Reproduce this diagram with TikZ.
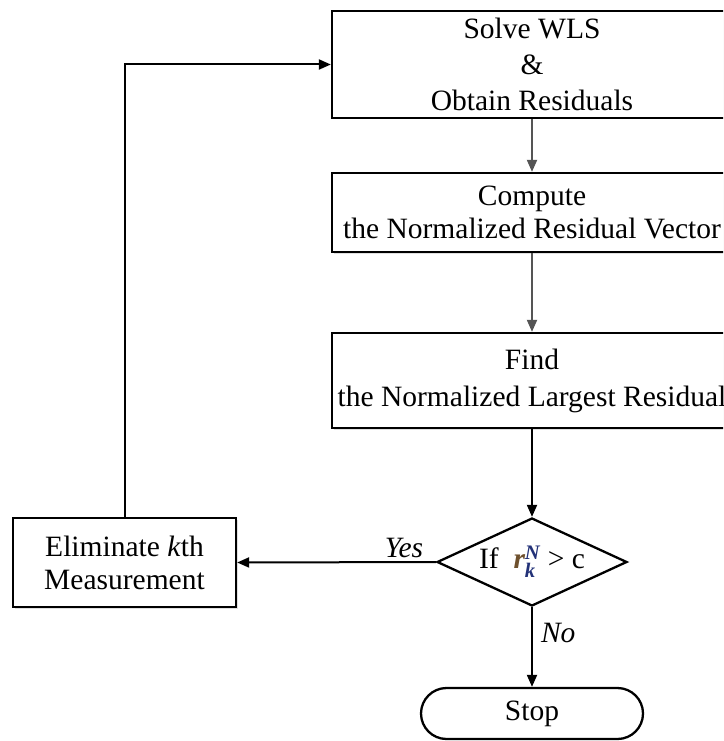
\documentclass[tikz,border=0pt]{standalone}
\usepackage{amsmath}
\usepackage{fontspec}
\setmainfont{Liberation Serif}
\usetikzlibrary{arrows.meta,shapes.geometric,shapes.misc,shadows}
\definecolor{flowgray}{RGB}{85,85,85}
\definecolor{rbrown}{RGB}{110,80,45}
\definecolor{knavy}{RGB}{35,50,120}
\newcommand{\resvar}{$\textcolor{rbrown}{\textit{\textbf{r}}}%
  ^{\textcolor{knavy}{\textit{\textbf{N}}}}_{\textcolor{knavy}{\textit{\textbf{k}}}}$}
\begin{document}
\begin{tikzpicture}[x=1pt,y=-1pt,
  txt/.style={font=\fontsize{29.5}{33}\selectfont},
  procbox/.style={txt,draw=black,line width=2.3pt,fill=white,rectangle,inner sep=0pt,
    align=center,drop shadow={shadow xshift=1.5pt,shadow yshift=-1.5pt,opacity=0.25}},
  decbox/.style={txt,draw=black,line width=2.3pt,fill=white,diamond,aspect=2.16,
    inner sep=0pt,minimum width=190,minimum height=88},
  termbox/.style={txt,draw=black,line width=2.3pt,fill=white,rounded rectangle,
    inner sep=0pt,minimum width=222,minimum height=51},
  garrow/.style={draw=flowgray,line width=2pt,-{Triangle[length=12pt,width=10pt]}},
  barrow/.style={draw=black,line width=2pt,-{Triangle[length=12pt,width=10pt]}},
  lbl/.style={txt,font=\fontsize{29.5}{33}\selectfont\itshape,inner sep=2pt}]
\clip (0,0) rectangle (723,741);
\fill[white] (0,0) rectangle (723,741);

% process steps
\node[procbox,minimum width=400,minimum height=107,font=\fontsize{29.5}{36}\selectfont]
  (solve) at (532,64.5) {Solve WLS\\\&\\Obtain Residuals};
\node[procbox,minimum width=400,minimum height=79]
  (compute) at (532,212.5) {Compute\\the Normalized Residual Vector};
\node[procbox,minimum width=400,minimum height=95,font=\fontsize{29.5}{37}\selectfont]
  (find) at (532,380.5) {Find\\the Normalized Largest Residual};

% decision
\node[decbox] (test) at (532,562) {If\ \ \resvar\ > c};

% elimination step
\node[procbox,minimum width=223,minimum height=89] (elim) at (124.5,562.5)
  {Eliminate \textit{k}th\\Measurement};

% terminal
\node[termbox] (stop) at (532,713.5) {Stop};

% connectors
\draw[garrow] (solve.south) -- (compute.north);
\draw[garrow] (compute.south) -- (find.north);
\draw[barrow] (find.south) -- (test.north);
\draw[barrow] (test.west) -- (elim.east) node[lbl,pos=0.16,above=1pt] {Yes};
\draw[barrow] (test.south) -- (stop.north) node[lbl,pos=0.32,right=6pt] {No};
\draw[barrow] (elim.north) |- (solve.west);
\end{tikzpicture}
\end{document}
